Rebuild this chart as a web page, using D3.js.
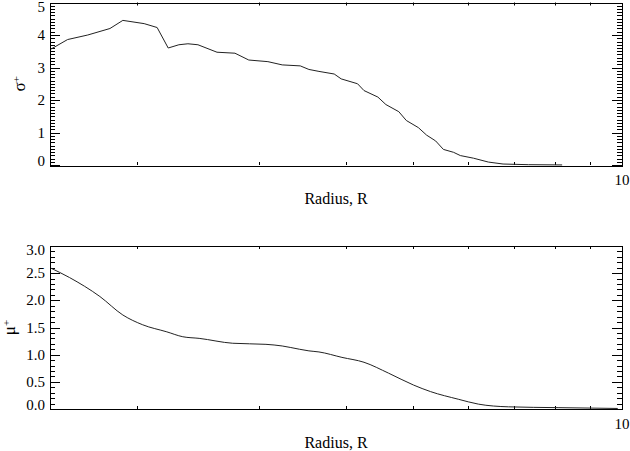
<!DOCTYPE html>
<meta charset="utf-8">
<style>
    body { margin: 0; background: #fff; }
    text { font-family: "Liberation Serif", "Times New Roman", serif; fill: #000; }
    .frame { fill: none; stroke: #000; stroke-width: 1; shape-rendering: crispEdges; }
    .curve { fill: none; stroke: #222; stroke-width: 1; }
</style>
<body>
<svg id="chart" width="630" height="451"></svg>
</body>
<script src="https://d3js.org/d3.v7.min.js"></script>
<script>

    // top panel: sigma+ against radius
    var radiusTop = [1.5, 1.59, 1.70, 1.83, 1.91, 2.05, 2.14, 2.22, 2.30, 2.37,
        2.45, 2.61, 2.77, 2.90, 3.09, 3.24, 3.44, 3.54, 3.66, 3.85,
        3.94, 4.16, 4.25, 4.45, 4.57, 4.77, 4.89, 5.09, 5.23, 5.39,
        5.53, 5.72, 5.85, 6.11, 6.42, 6.74, 7.33, 8.2];
    var sigmaPlus = [3.55, 3.86, 4.0, 4.2, 4.45, 4.35, 4.23, 3.6, 3.7, 3.73,
        3.7, 3.47, 3.44, 3.23, 3.18, 3.08, 3.05, 2.94, 2.88, 2.80,
        2.65, 2.5, 2.29, 2.09, 1.86, 1.64, 1.37, 1.15, 0.92, 0.74,
        0.48, 0.39, 0.29, 0.21, 0.09, 0.03, 0.01, 0.002];

    // bottom panel: mu+ against radius
    var radiusBot = [1.5, 1.60, 1.77, 1.91, 2.04, 2.21, 2.33, 2.46, 2.75, 3.07,
        3.24, 3.43, 3.54, 3.66, 3.95, 4.25, 4.61, 5.01, 5.30, 5.81,
        6.21, 6.86, 8.09, 9.86];
    var muPlus = [2.60, 2.42, 2.07, 1.73, 1.55, 1.42, 1.33, 1.30, 1.21, 1.19,
        1.16, 1.10, 1.07, 1.05, 0.95, 0.86, 0.66, 0.44, 0.32, 0.18,
        0.09, 0.04, 0.025, 0.01];

    var xTicks = [2, 3, 4, 5, 6, 7, 8, 9];
    var sigmaTicks = [0, 1, 2, 3, 4, 5];
    var muTicks = [0, 0.5, 1, 1.5, 2, 2.5, 3];

    var svg = d3.select("#chart");
    var left = 50, right = 622;

    var x = d3.scaleLog().domain([1.5, 10]).range([left, right]);

    // horizontal tick marks pointing inward from both side frames
    function yTickMarks(g, y, values, len) {
        values.forEach(function (v) {
            var py = Math.round(y(v)) + 0.5;
            g.append("line").attr("x1", left).attr("x2", left + len)
                .attr("y1", py).attr("y2", py).attr("stroke", "#000");
            g.append("line").attr("x1", right - len).attr("x2", right)
                .attr("y1", py).attr("y2", py).attr("stroke", "#000");
        });
    }

    function panel(cfg) {
        var y = d3.scaleLinear().domain(cfg.ydomain).range([cfg.bottom, cfg.top]);
        var g = svg.append("g");

        var minor = d3.range(0, Math.round((cfg.ydomain[1] - cfg.ydomain[0]) / cfg.minorStep) + 1)
            .map(function (i) { return cfg.ydomain[0] + i * cfg.minorStep; });
        yTickMarks(g, y, minor, 5);
        yTickMarks(g, y, cfg.yticks, 10);

        // x tick marks on bottom and top frames
        xTicks.forEach(function (v) {
            var px = Math.round(x(v)) + 0.5;
            g.append("line").attr("x1", px).attr("x2", px)
                .attr("y1", cfg.bottom).attr("y2", cfg.bottom - 3).attr("stroke", "#000");
            g.append("line").attr("x1", px).attr("x2", px)
                .attr("y1", cfg.top).attr("y2", cfg.top + 3).attr("stroke", "#000");
        });

        // y labels
        g.selectAll("text.ylab").data(cfg.yticks).enter().append("text")
            .attr("class", "ylab")
            .attr("x", left - 5).attr("y", function (d) { return y(d); })
            .attr("text-anchor", "end").style("font-size", "15px")
            .attr("dy", function (d) {
                if (d === cfg.ydomain[1]) return "0.62em";
                if (d === cfg.ydomain[0]) return "0.08em";
                return "0.34em";
            })
            .text(cfg.fmt);

        g.append("text")
            .attr("x", x(10)).attr("y", cfg.bottom + 20)
            .attr("text-anchor", "middle").style("font-size", "15px")
            .text("10");

        var line = d3.line()
            .x(function (d) { return x(d[0]); })
            .y(function (d) { return y(d[1]); })
            .curve(cfg.curve);
        g.append("path").attr("class", "curve")
            .attr("d", line(d3.zip(cfg.xs, cfg.ys)));

        g.append("rect").attr("class", "frame")
            .attr("x", left + 0.5).attr("y", Math.round(cfg.top) + 0.5)
            .attr("width", right - left).attr("height", Math.round(cfg.bottom - cfg.top));

        g.append("text")
            .attr("x", (left + right) / 2).attr("y", cfg.bottom + 39)
            .attr("text-anchor", "middle").style("font-size", "16px")
            .text("Radius, R");

        var yt = g.append("text")
            .attr("transform", "translate(" + cfg.titleX + "," + ((cfg.top + cfg.bottom) / 2) + ") rotate(-90)")
            .attr("text-anchor", "middle").style("font-size", "17px");
        yt.append("tspan").text(cfg.sym);
        yt.append("tspan").attr("dy", "-0.5em").style("font-size", "11px").text("+");
    }

    panel({
        top: 2.5, bottom: 165, ydomain: [0, 5], yticks: sigmaTicks, minorStep: 0.1,
        fmt: d3.format("d"), xs: radiusTop, ys: sigmaPlus, curve: d3.curveLinear,
        sym: "\u03c3", titleX: 25
    });

    panel({
        top: 246, bottom: 409, ydomain: [0, 3], yticks: muTicks, minorStep: 0.1,
        fmt: d3.format(".1f"), xs: radiusBot, ys: muPlus, curve: d3.curveMonotoneX,
        sym: "\u03bc", titleX: 15
    });

</script>
